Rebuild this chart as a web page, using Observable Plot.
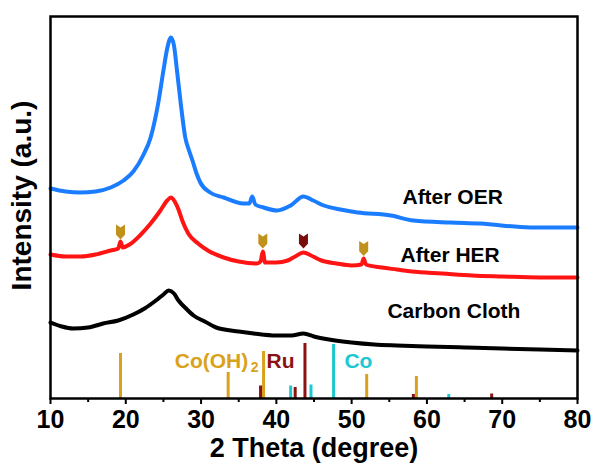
<!DOCTYPE html>
<html><head><meta charset="utf-8">
<script src="https://cdn.jsdelivr.net/npm/d3@7"></script>
<script src="https://cdn.jsdelivr.net/npm/@observablehq/plot@0.6"></script>
<style>body{margin:0;background:#fff;} svg{display:block}</style>
</head><body><div id="chart"></div>
<script>
// ---- data (2θ in degrees, intensity in arbitrary units) ----
const oerDeg = [10, 12, 14, 16, 18, 19.7, 21, 22.3, 23.3, 24.3, 25.0, 25.5, 26.0, 26.4, 26.8, 27.3, 27.9, 28.4, 28.9, 29.4, 29.9, 31.2, 33, 35.6, 36.4, 36.8, 37.2, 38.3, 40.1, 41.9, 43.6, 44.9, 46.3, 48.5, 50.8, 55.2, 58.2, 63.1, 67.1, 73.7, 80];
const oerInt = [210, 207, 206, 207, 211, 218, 227, 243, 261, 295, 328, 350, 361, 353, 328, 295, 261, 248, 237, 225, 216, 206, 201, 195, 195, 202, 194, 191, 188, 193, 202, 198, 193, 189, 186, 183, 178, 176, 175, 171, 171];

const herDeg = [10, 12, 14, 16, 18, 19.0, 19.3, 19.6, 20.5, 22, 23.3, 24.6, 25.5, 26, 26.5, 27.0, 27.5, 28.3, 29.6, 30.9, 33, 35, 37.4, 37.9, 38.2, 38.5, 40, 41.5, 42.5, 43.6, 44.6, 46, 48, 50, 51.3, 51.6, 51.9, 54, 56, 58, 62, 66, 70, 75, 80];
const herInt = [144, 142, 142, 144, 148, 150, 157, 151, 154, 164, 175, 188, 198, 201, 197, 189, 178, 165, 155, 148, 141, 137, 135, 137, 147, 136, 136, 138, 142, 146, 143, 138, 135, 133, 134, 140, 134, 131, 129, 127, 125, 123, 122, 121, 121];

const ccDeg = [10, 11.5, 13, 15, 17, 19, 21, 22.5, 24, 25, 25.7, 26.4, 27, 28, 29, 30.5, 32, 35, 37, 40, 42, 43.6, 45, 47, 50, 53, 56, 60, 65, 70, 75, 80];
const ccInt = [76, 72, 70, 71, 75, 78, 84, 90, 98, 104, 108, 105, 98, 90, 83, 77, 71, 67, 65, 63, 63, 65, 62, 59, 56, 54, 53, 52, 51, 50, 49, 48];

// reference stick patterns
const coohDeg = [19.3, 33.6, 38.3, 52.0, 58.6];
const coohInt = [45, 26, 47, 24, 22];
const ruDeg = [37.9, 42.5, 43.8, 58.2, 68.6];
const ruInt = [12.5, 11, 55, 4, 4.5];
const coDeg = [41.9, 44.6, 47.6, 62.9];
const coInt = [12.5, 13.5, 54, 4];

// peak markers on the After HER curve
const markDeg = [19.3, 38.2, 43.6, 51.6];
const markInt = [166.5, 157.5, 157.5, 150];
const markPhase = ["Co(OH)2", "Co(OH)2", "Ru", "Co(OH)2"];

const xTicks = [10, 20, 30, 40, 50, 60, 70, 80];
const xMinor = [15, 25, 35, 45, 55, 65, 75];

const seriesNames = ["After OER", "After HER", "Carbon Cloth"];

// ---- build tables ----
const zip = (xs, ys) => xs.map((d, i) => ({deg: d, v: ys[i]}));
const oer = zip(oerDeg, oerInt);
const her = zip(herDeg, herInt);
const cc = zip(ccDeg, ccInt);
const cooh = zip(coohDeg, coohInt);
const ru = zip(ruDeg, ruInt);
const co = zip(coDeg, coInt);
const marks = markDeg.map((d, i) => ({deg: d, v: markInt[i], phase: markPhase[i]}));

const C_OER = "#1a7cff", C_HER = "#ff1414", C_CC = "#000000";
const C_COOH = "#d9a21b", C_RU = "#8b1212", C_CO = "#1ec8d2";
const markColor = {"Co(OH)2": "#c0921c", "Ru": "#7a0c0c"};

// down-pointing "bookmark" marker
const bookmark = {
  draw(ctx, size) {
    const r = Math.sqrt(size / Math.PI);
    const w = 0.6 * r;
    ctx.moveTo(-w, -r);
    ctx.lineTo(0, -0.6 * r);
    ctx.lineTo(w, -r);
    ctx.lineTo(w, 0.35 * r);
    ctx.lineTo(0, r);
    ctx.lineTo(-w, 0.35 * r);
    ctx.closePath();
  }
};

const bold = {fontWeight: "bold"};

const chart = Plot.plot({
  width: 595, height: 468,
  marginLeft: 50, marginRight: 18, marginTop: 16, marginBottom: 70,
  style: {fontFamily: "'Liberation Sans', Arial, sans-serif", background: "#fff", color: "#000", fontWeight: "bold", overflow: "visible"},
  x: {domain: [10, 80], label: null},
  y: {domain: [0, 382], axis: null, label: null},
  marks: [
    Plot.ruleX(cooh, {x: "deg", y1: 0, y2: "v", stroke: C_COOH, strokeWidth: 3}),
    Plot.ruleX(ru, {x: "deg", y1: 0, y2: "v", stroke: C_RU, strokeWidth: 3}),
    Plot.ruleX(co, {x: "deg", y1: 0, y2: "v", stroke: C_CO, strokeWidth: 3}),
    Plot.line(cc, {x: "deg", y: "v", stroke: C_CC, strokeWidth: 4, curve: "monotone-x"}),
    Plot.line(her, {x: "deg", y: "v", stroke: C_HER, strokeWidth: 4, curve: "monotone-x"}),
    Plot.line(oer, {x: "deg", y: "v", stroke: C_OER, strokeWidth: 4, curve: "monotone-x"}),
    Plot.dot(marks, {x: "deg", y: "v", r: 7.5, symbol: bookmark, fill: d => markColor[d.phase], stroke: "none"}),
    Plot.frame({stroke: "#000", strokeWidth: 2.5}),
    Plot.axisX(xMinor, {tickSize: 4, text: null, label: null, strokeWidth: 2}),
    Plot.axisX(xTicks, {tickSize: 6, tickPadding: 6, fontSize: 25, fontWeight: "bold", label: null, strokeWidth: 2}),
    // phase labels
    Plot.text(["Co(OH)"], {x: 26.5, y: 37, text: d => d, textAnchor: "start", fill: C_COOH, fontSize: 21, ...bold}),
    Plot.text(["2"], {x: 36.6, y: 31, text: d => d, textAnchor: "start", fill: C_COOH, fontSize: 14, ...bold}),
    Plot.text(["Ru"], {x: 40.55, y: 37, text: d => d, fill: C_RU, fontSize: 21, ...bold}),
    Plot.text(["Co"], {x: 50.9, y: 37, text: d => d, fill: C_CO, fontSize: 21, ...bold}),
    // series labels
    Plot.text([seriesNames[0]], {x: 56.75, y: 201, text: d => d, textAnchor: "start", fill: "#000", fontSize: 21, ...bold}),
    Plot.text([seriesNames[1]], {x: 56.5, y: 143, text: d => d, textAnchor: "start", fill: "#000", fontSize: 21, ...bold}),
    Plot.text([seriesNames[2]], {x: 54.75, y: 87, text: d => d, textAnchor: "start", fill: "#000", fontSize: 21, ...bold}),
    // axis titles
    Plot.text(["2 Theta (degree)"], {frameAnchor: "bottom", dy: 50, textAnchor: "middle", lineAnchor: "middle", fontSize: 27, fill: "#000", ...bold}),
    Plot.text(["Intensity (a.u.)"], {frameAnchor: "left", rotate: -90, dx: -28, dy: -12, textAnchor: "middle", lineAnchor: "middle", fontSize: 28, fill: "#000", ...bold})
  ]
});
document.getElementById("chart").appendChild(chart);
</script>
</body></html>
